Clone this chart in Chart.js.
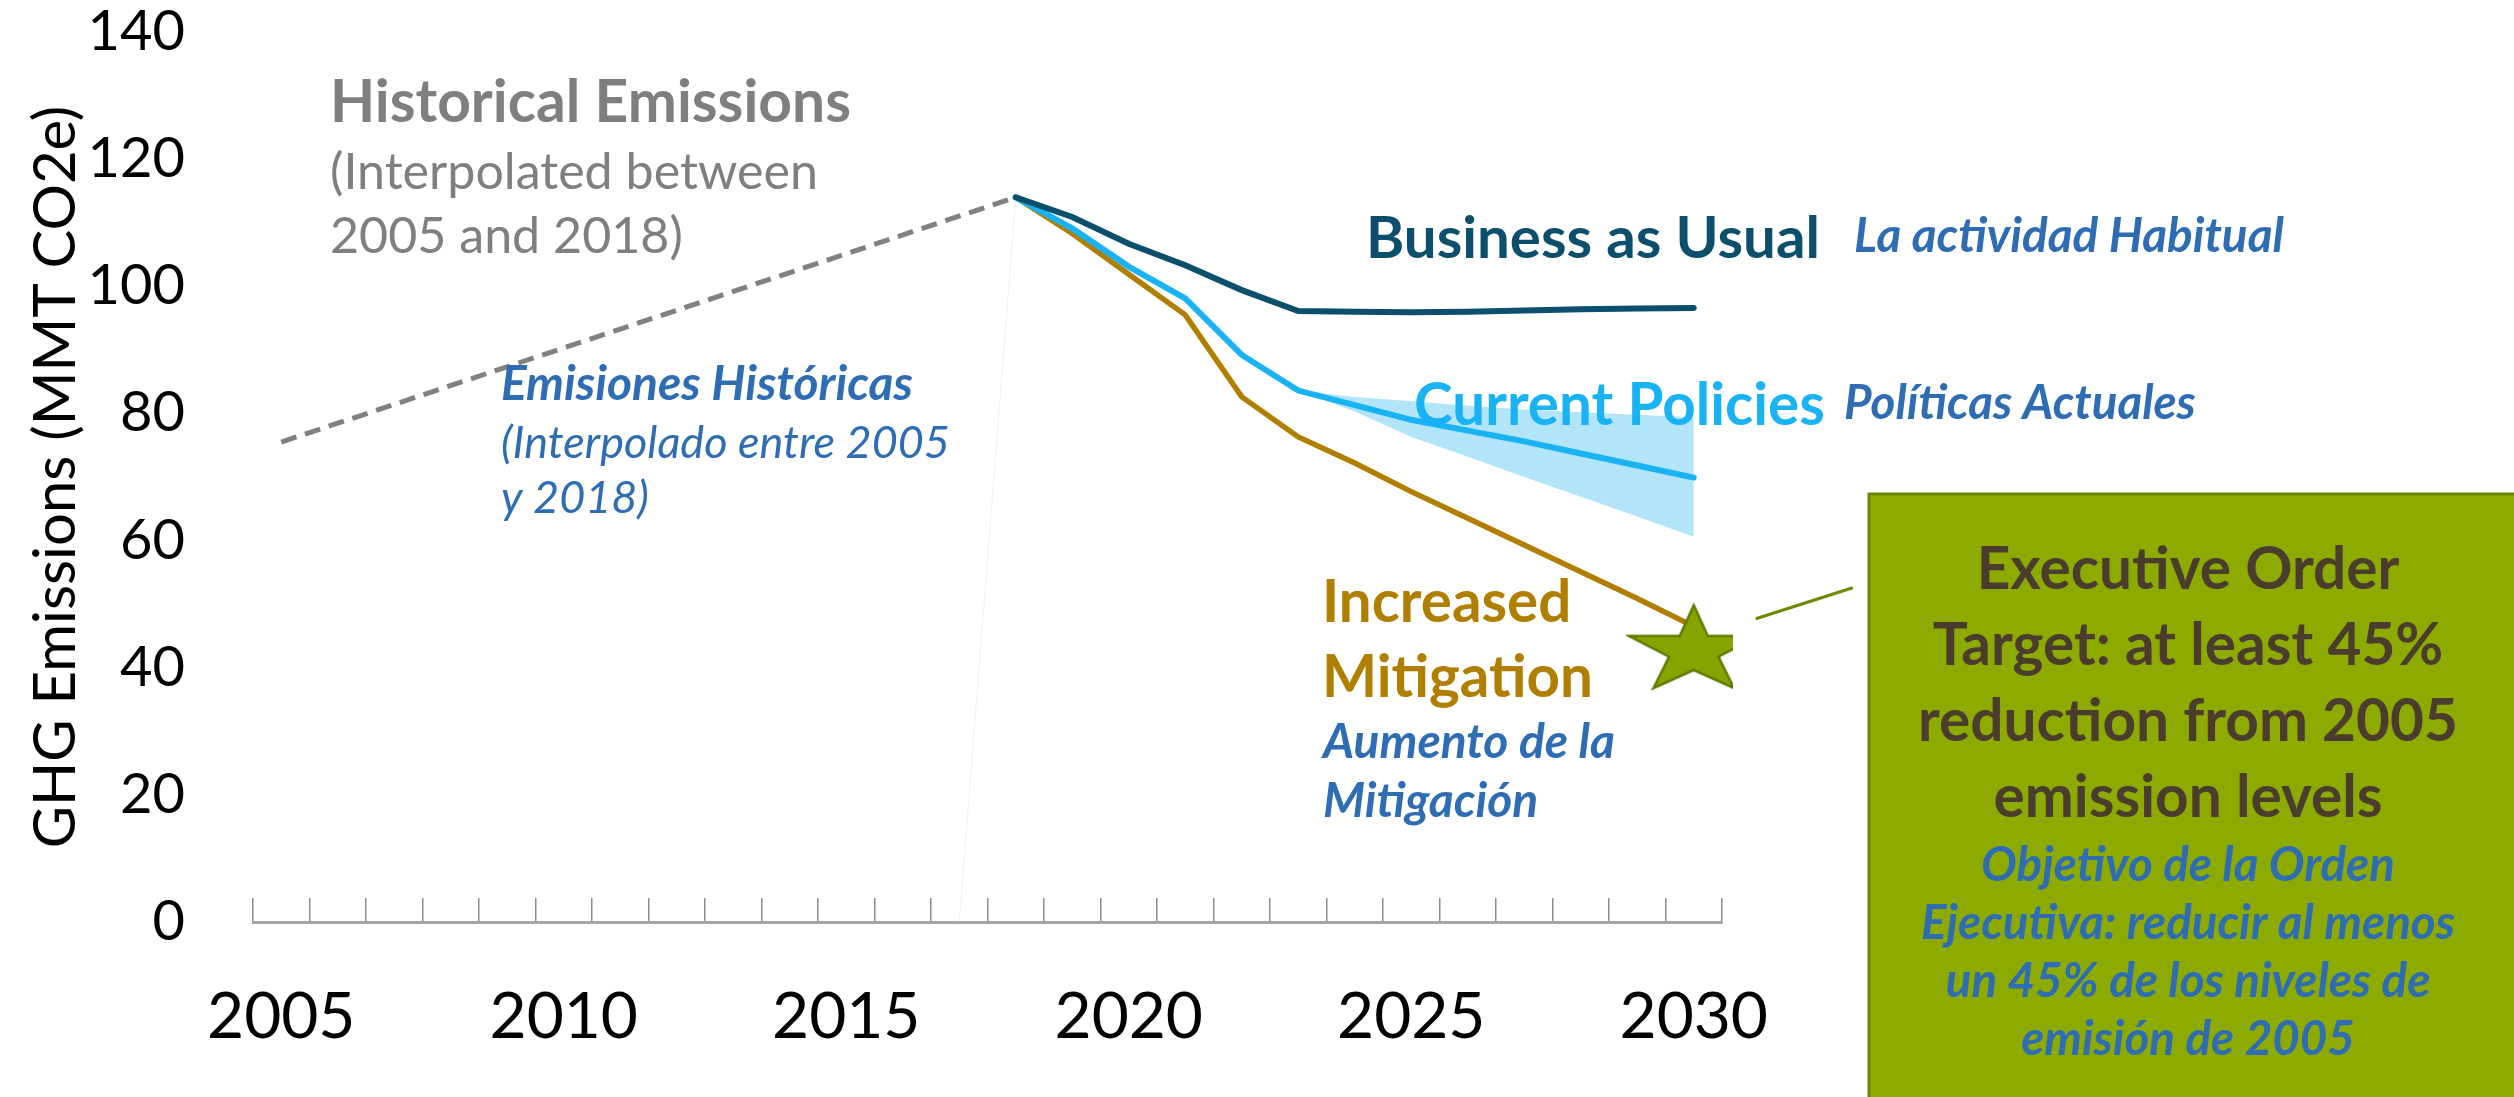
<!DOCTYPE html>
<html>
<head>
<meta charset="utf-8">
<script src="https://cdn.jsdelivr.net/npm/chart.js@4/dist/chart.umd.min.js"></script>
<style>
  html, body { margin: 0; padding: 0; background: #fff; }
  #wrap { width: 2514px; height: 1097px; position: relative; }
</style>
</head>
<body>
<div id="wrap"><canvas id="emissionsChart"></canvas></div>
<script>
// categories
const years = [2005, 2006, 2007, 2008, 2009, 2010, 2011, 2012, 2013, 2014, 2015, 2016, 2017,
               2018, 2019, 2020, 2021, 2022, 2023, 2024, 2025, 2026, 2027, 2028, 2029, 2030];
const labeledYears = [2005, 2010, 2015, 2020, 2025, 2030];
const yTicks = [0, 20, 40, 60, 80, 100, 120, 140];

// historical (interpolated between two end points)
const histYears = [2005, 2018];
const histValues = [75.5, 114.0];

// projections
const projYears = [2018, 2019, 2020, 2021, 2022, 2023, 2024, 2025, 2026, 2027, 2028, 2029, 2030];
const businessAsUsual     = [114.0, 110.9, 106.7, 103.3, 99.4, 96.1, 96.0, 95.9, 96.0, 96.2, 96.4, 96.5, 96.6];
const currentPolicies     = [114.0, 109.1, 103.1, 98.1, 89.2, 83.6, 81.3, 79.0, 77.3, 75.6, 73.7, 71.8, 69.9];
const increasedMitigation = [114.0, 108.3, 101.9, 95.5, 82.6, 76.3, 72.2, 67.7, 63.5, 59.3, 55.1, 50.9, 46.5];

// current policies range
const bandYears  = [2023, 2024, 2025, 2026, 2027, 2028, 2029, 2030];
const policyHigh = [83.6, 82.6, 81.9, 81.2, 80.6, 80.2, 79.8, 79.4];
const policyLow  = [83.6, 80.3, 76.3, 73.2, 70.0, 66.9, 63.8, 60.6];

// executive order target
const targetYears = [2030];
const targetValues = [43.3];

// faint leftover series in the original
const faintYears = [2017, 2018];
const faintValues = [0, 114.0];

const BLUE = '#2e6db4';
const FONT = 'Lato';

function onYears(src, vals) {
    return years.map(y => {
        const i = src.indexOf(y);
        return i < 0 ? null : vals[i];
    });
}

function starImage(w, h) {
    const c = document.createElement('canvas');
    c.width = w + 6;
    c.height = h + 6;
    const g = c.getContext('2d');
    const pts = [[0.5, 0], [0.608, 0.37], [1, 0.37], [0.69, 0.62], [0.81, 1], [0.5, 0.78],
                 [0.19, 1], [0.31, 0.62], [0, 0.37], [0.392, 0.37]];
    g.beginPath();
    pts.forEach(([px, py], i) => {
        const x = 3 + px * w, y = 3 + py * h;
        if (i) g.lineTo(x, y); else g.moveTo(x, y);
    });
    g.closePath();
    g.fillStyle = '#86a400';
    g.fill();
    g.lineWidth = 2.5;
    g.strokeStyle = '#5e7b00';
    g.stroke();
    return c;
}

// text annotations (canvas pixels, baseline of first line)
const notes = [
    { lines: ['Historical Emissions'], x: 330, y: 122, w: 521, weight: 'bold', color: '#7f7f7f' },
    { lines: ['(Interpolated between', '2005 and 2018)'], x: 330, y: 189, gap: 64, w: 488, color: '#7f7f7f' },
    { lines: ['Emisiones Históricas'], x: 501, y: 400, w: 412, weight: 'bold', style: 'italic', color: BLUE },
    { lines: ['(Interpolado entre 2005', 'y 2018)'], x: 501, y: 458, gap: 55, w: 449, style: 'italic', color: BLUE },
    { lines: ['Business as Usual'], x: 1366, y: 258, w: 454, weight: 'bold', color: '#0b4f6c' },
    { lines: ['La actividad Habitual'], x: 1854, y: 252, w: 430, weight: 'bold', style: 'italic', color: BLUE },
    { lines: ['Current Policies'], x: 1414, y: 425, w: 411, weight: 'bold', color: '#19b3f4' },
    { lines: ['Políticas Actuales'], x: 1844, y: 419, w: 352, weight: 'bold', style: 'italic', color: BLUE },
    { lines: ['Increased', 'Mitigation'], x: 1322, y: 622, gap: 75, w: 271, weight: 'bold', color: '#b07f00' },
    { lines: ['Aumento de la', 'Mitigación'], x: 1323, y: 758, gap: 59, w: 292, weight: 'bold', style: 'italic', color: BLUE },
    { lines: ['Executive Order', 'Target: at least 45%', 'reduction from 2005', 'emission levels'],
      x: 2188, y: 589, gap: 76, w: 540, weight: 'bold', color: '#4b3c2e', align: 'center' },
    { lines: ['Objetivo de la Orden', 'Ejecutiva: reducir al menos', 'un 45% de los niveles de', 'emisión de 2005'],
      x: 2188, y: 881, gap: 58, w: 534, weight: 'bold', style: 'italic', color: BLUE, align: 'center' }
];

const notesPlugin = {
    id: 'notes',
    afterDraw(chart) {
        const ctx = chart.ctx;
        ctx.save();
        // target box
        ctx.fillStyle = '#8caa00';
        ctx.fillRect(1869, 494, 700, 700);
        ctx.strokeStyle = '#6a8700';
        ctx.lineWidth = 3;
        ctx.strokeRect(1869, 494, 700, 700);

        // leader line from the star
        const star = chart.getDatasetMeta(0).data[years.indexOf(targetYears[0])];
        ctx.strokeStyle = '#6b8a00';
        ctx.lineWidth = 3;
        ctx.beginPath();
        ctx.moveTo(star.x + 62, star.y - 28);
        ctx.lineTo(star.x + 159, star.y - 59);
        ctx.stroke();

        notes.forEach(n => {
            const st = n.style || 'normal', wt = n.weight || 'normal';
            ctx.font = `${st} ${wt} 100px ${FONT}`;
            const widest = Math.max(...n.lines.map(l => ctx.measureText(l).width));
            const size = 100 * n.w / widest;
            ctx.font = `${st} ${wt} ${size}px ${FONT}`;
            ctx.fillStyle = n.color;
            ctx.textAlign = n.align || 'left';
            ctx.textBaseline = 'alphabetic';
            n.lines.forEach((l, i) => ctx.fillText(l, n.x, n.y + i * (n.gap || 0)));
        });
        ctx.restore();
    }
};

const ctx = document.getElementById('emissionsChart').getContext('2d');
new Chart(ctx, {
    type: 'line',
    data: {
        labels: years.map(String),
        datasets: [
            {
                label: 'Target',
                data: onYears(targetYears, targetValues),
                showLine: false,
                pointStyle: starImage(130, 83),
                pointRadius: 10,
                pointHoverRadius: 10
            },
            {
                label: 'Business as Usual',
                data: onYears(projYears, businessAsUsual),
                borderColor: '#0b4f6c',
                borderWidth: 6,
                borderCapStyle: 'round',
                pointRadius: 0
            },
            {
                label: 'Current Policies',
                data: onYears(projYears, currentPolicies),
                borderColor: '#19b3f4',
                borderWidth: 6,
                borderCapStyle: 'round',
                pointRadius: 0
            },
            {
                label: 'Increased Mitigation',
                data: onYears(projYears, increasedMitigation),
                borderColor: '#b07f00',
                borderWidth: 5.5,
                borderCapStyle: 'round',
                pointRadius: 0
            },
            {
                label: 'Historical Emissions',
                data: onYears(histYears, histValues),
                borderColor: '#808080',
                borderWidth: 5,
                borderDash: [16, 9],
                spanGaps: true,
                pointRadius: 0
            },
            {
                label: 'faint',
                data: onYears(faintYears, faintValues),
                borderColor: 'rgba(205,236,252,0.5)',
                borderWidth: 1,
                pointRadius: 0
            },
            {
                label: 'Policy high',
                data: onYears(bandYears, policyHigh),
                borderWidth: 0,
                borderColor: 'rgba(0,0,0,0)',
                backgroundColor: '#b3e5fa',
                fill: '+1',
                pointRadius: 0
            },
            {
                label: 'Policy low',
                data: onYears(bandYears, policyLow),
                borderWidth: 0,
                borderColor: 'rgba(0,0,0,0)',
                pointRadius: 0
            }
        ]
    },
    options: {
        responsive: true,
        maintainAspectRatio: false,
        devicePixelRatio: 1,
        animation: false,
        layout: { padding: { top: 32, right: 792, left: 0, bottom: 0 } },
        plugins: {
            legend: { display: false },
            tooltip: { enabled: false }
        },
        scales: {
            x: {
                offset: true,
                afterFit: s => { s.height = 175; },
                border: { display: true, color: '#a6a6a6', width: 3 },
                grid: {
                    display: true,
                    offset: true,
                    drawOnChartArea: false,
                    drawTicks: true,
                    tickLength: -24,
                    color: '#8c8c8c',
                    lineWidth: 1.5
                },
                ticks: {
                    autoSkip: false,
                    maxRotation: 0,
                    padding: 87,
                    color: '#000',
                    font: { family: FONT, size: 64, lineHeight: 1 },
                    callback: (v, i) => labeledYears.includes(years[i]) ? String(years[i]) : ''
                }
            },
            y: {
                min: 0,
                max: 140,
                afterFit: s => { s.width = 253; s.paddingTop = 0; s.paddingBottom = 0; },
                afterBuildTicks: s => { s.ticks = yTicks.map(v => ({ value: v })); },
                border: { display: false },
                grid: { display: false },
                ticks: {
                    padding: 60,
                    color: '#000',
                    font: { family: FONT, size: 56, lineHeight: 1 }
                },
                title: {
                    display: true,
                    text: 'GHG Emissions (MMT CO2e)',
                    color: '#000',
                    padding: { top: 21, bottom: 0 },
                    font: { family: FONT, size: 58, lineHeight: 1.2 }
                }
            }
        }
    },
    plugins: [notesPlugin]
});
</script>
</body>
</html>
